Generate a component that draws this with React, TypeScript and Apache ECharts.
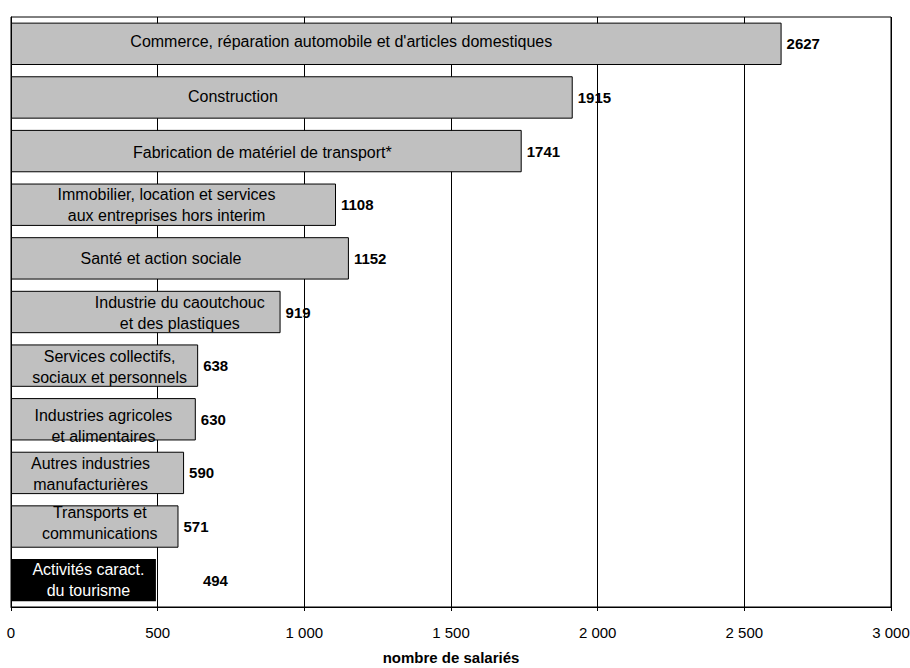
import React, { useEffect, useRef } from "react";
import * as echarts from "echarts";

const categories: string[] = [
  "Commerce, réparation automobile et d'articles domestiques",
  "Construction",
  "Fabrication de matériel de transport*",
  "Immobilier, location et services\naux entreprises hors interim",
  "Santé et action sociale",
  "Industrie du caoutchouc\net des plastiques",
  "Services collectifs,\nsociaux et personnels",
  "Industries agricoles\net alimentaires",
  "Autres industries\nmanufacturières",
  "Transports et\ncommunications",
  "Activités caract.\ndu tourisme",
];

const values: number[] = [2627, 1915, 1741, 1108, 1152, 919, 638, 630, 590, 571, 494];

const xTicks: number[] = [0, 500, 1000, 1500, 2000, 2500, 3000];

// label nudges (layout only)
const nameLabelOffsets: [number, number][] = [
  [-55, -2], [-59, -1], [-4, 1], [-7, 0], [-19, 0], [34, 1], [5, 1], [0, 7], [-7, 1], [5, -4], [5, 0],
];
const valueLabelOffsets: [number, number][] = [
  [0, 0], [0, 0], [0, 0], [0, 0], [0, 0], [0, 0], [0, 0], [0, 0], [0, 0], [0, 0], [42, 0],
];

const FONT = "'Liberation Sans', Arial, sans-serif";

function fmt(v: number): string {
  return String(v).replace(/\B(?=(\d{3})+(?!\d))/g, " ");
}

export default function App() {
  const ref = useRef<HTMLDivElement>(null);
  useEffect(() => {
    if (!ref.current) return;
    const chart = echarts.init(ref.current, undefined, { renderer: "svg" });
    const last = values.length - 1;
    chart.setOption({
      animation: false,
      backgroundColor: "#fff",
      grid: {
        left: 11,
        right: 19,
        top: 17,
        bottom: 61,
        show: true,
        borderColor: "#000",
        borderWidth: 1,
        containLabel: false,
        outerBoundsMode: "none",
      },
      xAxis: {
        type: "value",
        min: xTicks[0],
        max: xTicks[xTicks.length - 1],
        interval: 500,
        axisLine: { show: true, lineStyle: { color: "#000", width: 1 } },
        axisTick: { show: true, length: 4, lineStyle: { color: "#000" } },
        splitLine: { show: true, lineStyle: { color: "#000", width: 1 } },
        axisLabel: {
          formatter: (v: number) => fmt(v),
          color: "#000",
          fontFamily: FONT,
          fontSize: 15,
          margin: 18,
        },
        name: "nombre de salariés",
        nameLocation: "middle",
        nameGap: 43,
        nameTextStyle: {
          color: "#000",
          fontFamily: FONT,
          fontSize: 15,
          fontWeight: "bold",
        },
      },
      yAxis: {
        type: "category",
        inverse: true,
        data: categories,
        axisLine: { show: true, lineStyle: { color: "#000", width: 1 } },
        axisTick: { show: false },
        axisLabel: { show: false },
        splitLine: { show: false },
      },
      series: [
        {
          type: "bar",
          barCategoryGap: "21%",
          data: values.map((v, i) => ({
            value: v,
            itemStyle: {
              color: i === last ? "#000" : "#c0c0c0",
              borderColor: "#000",
              borderWidth: i === last ? 0 : 1,
            },
            label: {
              offset: nameLabelOffsets[i],
              color: i === last ? "#fff" : "#000",
            },
          })),
          label: {
            show: true,
            position: "inside",
            formatter: (p: any) => categories[p.dataIndex],
            fontFamily: FONT,
            fontSize: 16,
            lineHeight: 21,
            align: "center",
          },
          silent: true,
        },
        {
          type: "bar",
          barGap: "-100%",
          barCategoryGap: "21%",
          data: values.map((v, i) => ({
            value: v,
            label: { offset: valueLabelOffsets[i] },
          })),
          itemStyle: { color: "rgba(0,0,0,0)" },
          label: {
            show: true,
            position: "right",
            distance: 5,
            color: "#000",
            fontFamily: FONT,
            fontSize: 15,
            fontWeight: "bold",
          },
          silent: true,
        },
      ],
    });
    return () => chart.dispose();
  }, []);
  return (
    <div
      ref={ref}
      style={{ position: "fixed", left: 0, top: 0, width: 910, height: 668 }}
    />
  );
}
